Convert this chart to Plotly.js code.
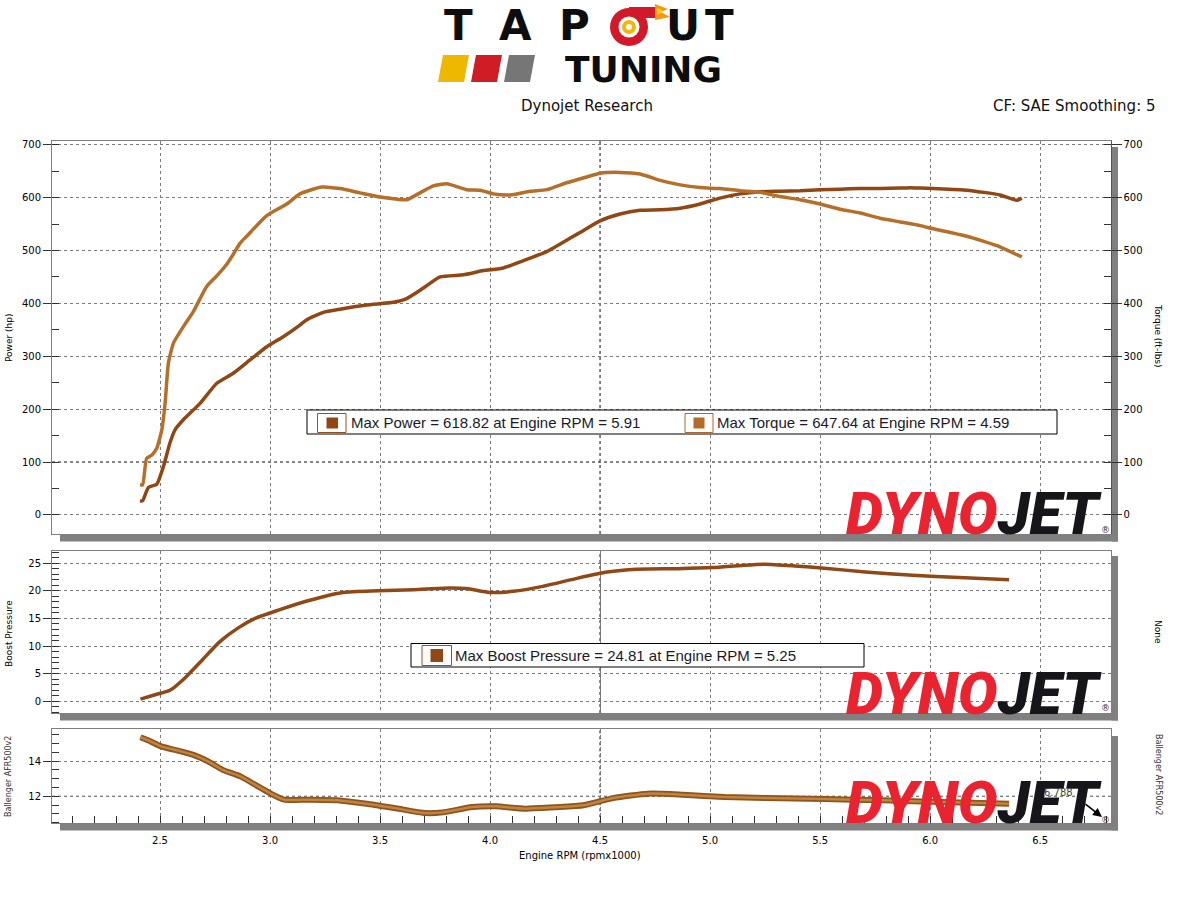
<!DOCTYPE html>
<html><head><meta charset="utf-8">
<script src="https://cdn.plot.ly/plotly-3.0.1.min.js"></script>
<style>html,body{margin:0;padding:0;background:#fff}#chart{width:1178px;height:899px}</style>
</head><body><div id="chart"></div>
<script>
// ---------- data (Engine RPM x1000) ----------
const rpmPower = [2.409,2.421,2.447,2.485,2.515,2.545,2.568,2.606,2.682,2.758,2.833,2.909,2.985,3.060,3.136,3.167,3.242,3.318,3.439,3.561,3.621,3.697,3.773,3.879,3.970,4.061,4.152,4.258,4.379,4.409,4.500,4.591,4.682,4.773,4.864,4.955,5.045,5.136,5.227,5.318,5.409,5.500,5.591,5.682,5.773,5.864,5.910,5.955,6.015,6.167,6.318,6.394,6.417];
const powerHp  = [26,27,52,58,91,136,161,180,211,249,268,293,318,337,359,369,383,389,397,402,409,429,450,454,462,467,481,498,527,534,556,569,576,577,580,588,599,607,611,612,613,615,616,617,617,618,618.82,618,617,614,605,595,599];

const rpmTorque = [2.409,2.421,2.439,2.462,2.485,2.508,2.523,2.538,2.561,2.606,2.652,2.712,2.758,2.803,2.833,2.864,2.894,2.985,3.076,3.136,3.235,3.318,3.409,3.500,3.561,3.621,3.682,3.742,3.803,3.894,3.955,4.015,4.091,4.182,4.258,4.348,4.439,4.500,4.590,4.682,4.773,4.864,4.955,5.045,5.136,5.227,5.318,5.409,5.500,5.591,5.682,5.773,5.864,5.955,6.015,6.167,6.318,6.394,6.417];
const torqueFtLbs = [57,57,107,113,126,161,211,287,325,356,385,432,452,474,493,514,527,566,588,607,620,617,609,601,598,596,609,622,626,615,614,607,605,612,615,628,639,646,647.64,644.5,632.5,624,619,617,613,610,602,596,588,578,571,561,554,547,541,527,507,492,488];

const rpmBoost = [2.411,2.478,2.545,2.612,2.692,2.772,2.852,2.932,3.038,3.172,3.332,3.492,3.652,3.812,3.892,3.999,4.105,4.239,4.399,4.532,4.666,4.852,5.012,5.146,5.250,5.386,5.519,5.706,5.920,6.133,6.359];
const boostPressure = [0.4,1.2,2.0,4.2,7.5,10.8,13.2,15.0,16.5,18.2,19.7,20.0,20.2,20.5,20.4,19.7,19.9,20.8,22.3,23.4,23.9,24.0,24.2,24.6,24.81,24.5,24.1,23.4,22.8,22.4,22.0];

const rpmAfr = [2.411,2.451,2.505,2.585,2.652,2.718,2.785,2.865,2.932,2.998,3.065,3.172,3.305,3.439,3.572,3.705,3.785,3.919,4.025,4.159,4.292,4.425,4.559,4.719,4.879,5.066,5.252,5.519,5.786,6.053,6.359];
const afrBallenger = [15.35,15.15,14.83,14.58,14.35,13.98,13.5,13.13,12.66,12.19,11.81,11.81,11.78,11.58,11.32,11.05,11.09,11.39,11.43,11.3,11.38,11.49,11.9,12.15,12.09,11.96,11.9,11.85,11.77,11.68,11.58];

const legendPower = 'Max Power = 618.82 at Engine RPM = 5.91';
const legendTorque = 'Max Torque = 647.64 at Engine RPM = 4.59';
const legendBoost = 'Max Boost Pressure = 24.81 at Engine RPM = 5.25';

// ---------- helpers ----------
const W = 1178, H = 899;
const px = x => x / W, py = y => 1 - y / H;
const F = 'DejaVu Sans';
const C_POWER = '#904714', C_TORQUE = '#b66f2a', C_BOOST = '#8f4816';

const traces = [
  {x: rpmPower, y: powerHp, xaxis: 'x', yaxis: 'y', mode: 'lines', name: 'Power',
   line: {color: C_POWER, width: 3.5, shape: 'spline', smoothing: 0.5}},
  {x: rpmTorque, y: torqueFtLbs, xaxis: 'x', yaxis: 'y4', mode: 'lines', name: 'Torque',
   line: {color: C_TORQUE, width: 3.5, shape: 'spline', smoothing: 0.5}},
  {x: rpmBoost, y: boostPressure, xaxis: 'x2', yaxis: 'y2', mode: 'lines', name: 'Boost',
   line: {color: C_BOOST, width: 3.5, shape: 'spline', smoothing: 0.6}},
  {x: rpmAfr, y: afrBallenger, xaxis: 'x3', yaxis: 'y3', mode: 'lines', name: 'AFR',
   line: {color: '#8c5420', width: 6, shape: 'spline', smoothing: 0.6}},
  {x: rpmAfr, y: afrBallenger, xaxis: 'x3', yaxis: 'y3', mode: 'lines', name: 'AFR',
   line: {color: '#c2843c', width: 2.5, shape: 'spline', smoothing: 0.6}}
];

const xDom = [px(52), px(1110.5)];
const xRange = [2.009, 6.82];
const tickFont = {family: F, size: 10, color: '#000'};
const gridBase = {showgrid: true, gridcolor: '#7c7c7c', griddash: 'dot', gridwidth: 1,
  zeroline: false, showline: true, linecolor: '#7f7f7f', linewidth: 1, mirror: true};
const xBase = Object.assign({}, gridBase, {domain: xDom, range: xRange, tick0: 2.5, dtick: 0.5,
  showticklabels: false, ticks: ''});
const yLeft = (dom, range, dtick, mdtick) => Object.assign({}, gridBase, {
  domain: dom, range: range, tick0: 0, dtick: dtick, ticks: 'outside', ticklen: 8, tickcolor: '#333',
  tickfont: tickFont, minor: {dtick: mdtick, tick0: 0, ticks: 'inside', ticklen: 7, tickcolor: '#333', showgrid: false}});
const yRight = (ov, anchor, range, dtick, mdtick) => ({
  overlaying: ov, anchor: anchor, side: 'right', range: range, tick0: 0, dtick: dtick,
  showgrid: false, zeroline: false, showline: true, linecolor: '#555', linewidth: 1,
  ticks: 'outside', ticklen: 10, tickcolor: '#333', tickfont: tickFont,
  minor: {dtick: mdtick, tick0: 0, ticks: 'inside', ticklen: 7, tickcolor: '#333', showgrid: false}});

const domTop = [py(534), py(141)], domMid = [py(713), py(551)], domBot = [py(823.3), py(729.3)];

const layout = {
  width: W, height: H, margin: {l: 0, r: 0, t: 0, b: 0},
  paper_bgcolor: '#fff', plot_bgcolor: '#fff', showlegend: false,
  xaxis: Object.assign({}, xBase, {anchor: 'y'}),
  xaxis2: Object.assign({}, xBase, {anchor: 'y2'}),
  xaxis3: Object.assign({}, xBase, {anchor: 'y3', showticklabels: true, tickformat: '.1f',
    tickfont: tickFont, ticks: 'inside', ticklen: 7, tickcolor: '#333', ticklabelstandoff: 8,
    minor: {dtick: 0.1, tick0: 2.5, ticks: 'inside', ticklen: 7, tickcolor: '#333', showgrid: false}}),
  yaxis: Object.assign(yLeft(domTop, [-36, 707], 100, 50), {anchor: 'x'}),
  yaxis2: Object.assign(yLeft(domMid, [-2.1, 27.2], 5, 1), {anchor: 'x2'}),
  yaxis3: Object.assign(yLeft(domBot, [10.47, 15.8], 2, 0.5), {anchor: 'x3'}),
  yaxis4: yRight('y', 'x', [-36, 707], 100, 50),
  yaxis5: yRight('y2', 'x2', [-2.1, 27.2], 5, 1),
  yaxis6: yRight('y3', 'x3', [10.47, 15.8], 2, 0.5),
  shapes: [], annotations: []
};

const S = layout.shapes, A = layout.annotations;
const rectPx = (x0, y0, x1, y1, fill, line, lw, layer) => S.push({type: 'rect', xref: 'paper', yref: 'paper',
  x0: px(x0), x1: px(x1), y0: py(y1), y1: py(y0), fillcolor: fill, line: {color: line || fill, width: lw || 0}, layer: layer || 'above'});
const pathPx = (pts, fill) => S.push({type: 'path', xref: 'paper', yref: 'paper', layer: 'above',
  path: 'M ' + pts.map(p => px(p[0]).toFixed(5) + ' ' + py(p[1]).toFixed(5)).join(' L ') + ' Z',
  fillcolor: fill, line: {width: 0}});
const circlePx = (cx, cy, r, fill) => S.push({type: 'circle', xref: 'paper', yref: 'paper', layer: 'above',
  x0: px(cx - r), x1: px(cx + r), y0: py(cy + r), y1: py(cy - r), fillcolor: fill, line: {width: 0}});
const textPx = (x, y, text, font, opts) => A.push(Object.assign({xref: 'paper', yref: 'paper', x: px(x), y: py(y),
  text: text, showarrow: false, font: font, xanchor: 'center', yanchor: 'middle'}, opts || {}));

// drop shadows of the three panels
[[534.5, 147], [713.5, 556], [823.5, 736]].forEach(([b, t]) => {
  rectPx(60, b, 1118, b + 7, '#808080', null, 0, 'below');
  rectPx(1111.5, t, 1118, b + 7, '#808080', null, 0, 'below');
});

// dark cursor/reference lines
const dl = {color: '#000', width: 1, dash: 'dot'};
[100, 500].forEach(v => S.push({type: 'line', xref: 'x domain', x0: 0, x1: 1, yref: 'y', y0: v, y1: v, line: dl, layer: 'below'}));
S.push({type: 'line', xref: 'x3 domain', x0: 0, x1: 1, yref: 'y3', y0: 12, y1: 12, line: dl, layer: 'below'});
[['x', 'y domain'], ['x2', 'y2 domain'], ['x3', 'y3 domain']].forEach(([xr, yr]) =>
  S.push({type: 'line', xref: xr, x0: 4.5, x1: 4.5, yref: yr, y0: 0, y1: 1, line: dl, layer: 'below'}));

// DYNOJET watermarks
const dj = '<span style="color:#ea2330">DYNO</span><span style="color:#16161a">JET</span>';
[[513, 530], [693, 708], [802, 820]].forEach(([cy, ry]) => {
  textPx(1104, cy, dj, {family: 'Roboto', size: 59, weight: 900, style: 'italic'}, {xanchor: 'right'});
  textPx(1105, ry, '®', {family: F, size: 9, color: '#333'});
});
textPx(1058, 792, '6.788', {family: F, size: 10, color: '#444'});
A.push({xref: 'paper', yref: 'paper', x: px(1102), y: py(817), ax: -18, ay: -14, text: '', showarrow: true,
  arrowhead: 2, arrowsize: 1.2, arrowwidth: 1.5, arrowcolor: '#000'});

// legend boxes
const lf = {family: 'Liberation Sans', size: 15, color: '#1a1a2a'};
rectPx(307, 410, 1057, 434, '#fff', '#000', 1);
rectPx(317.5, 413.5, 346, 432.5, '#fff', '#9a5020', 1);
rectPx(326.5, 417.5, 338, 428.5, C_POWER);
textPx(349, 422.5, legendPower, lf, {xanchor: 'left'});
rectPx(685, 413.5, 713, 432.5, '#fff', '#b0682a', 1);
rectPx(693.5, 417.5, 704.5, 428.5, '#b36b2a');
textPx(715, 422.5, legendTorque, lf, {xanchor: 'left'});
rectPx(411, 643.5, 864, 667, '#fff', '#000', 1);
rectPx(422, 645.5, 451.5, 665.5, '#fff', '#9a5020', 1);
rectPx(430.5, 649, 443, 662, C_BOOST);
textPx(453, 655.5, legendBoost, lf, {xanchor: 'left'});

// axis titles
const tf = {family: F, size: 9, color: '#000'};
textPx(9, 338, 'Power (hp)', tf, {textangle: -90});
textPx(1158, 336, 'Torque (ft-lbs)', tf, {textangle: 90});
textPx(9, 634, 'Boost Pressure', tf, {textangle: -90});
textPx(1158, 632, 'None', tf, {textangle: 90});
textPx(8, 777, 'Ballenger AFR500v2', {family: F, size: 8, color: '#333'}, {textangle: -90});
textPx(1159, 774, 'Ballenger AFR500v2', {family: F, size: 8, color: '#333'}, {textangle: 90});
textPx(580, 855, 'Engine RPM (rpmx1000)', {family: F, size: 10, color: '#000'});

// header
textPx(587, 106, 'Dynojet Research', {family: F, size: 15, color: '#111'});
textPx(1158, 106, 'CF: SAE Smoothing: 5', {family: F, size: 15, color: '#111'}, {xanchor: 'right'});

// TAPOUT TUNING logo
const lg = {family: F, size: 42, color: '#0d0d0d', weight: 'bold'};
[['T', 458], ['A', 515], ['P', 574], ['U', 683], ['T', 719]].forEach(([c, x]) => textPx(x, 25, c, lg));
rectPx(629, 7, 657, 18, '#d2192a');
pathPx([[655, 4], [668, 9], [661, 12], [670, 17], [655, 20]], '#f29a12');
pathPx([[657, 8], [664, 11], [657, 15]], '#f8d21a');
circlePx(629, 27, 19, '#d2192a');
circlePx(629, 27, 10.5, '#fff');
circlePx(629, 27, 7, '#f2b705');
circlePx(629, 27, 3, '#fff');
pathPx([[438, 82], [443, 55], [469, 55], [464, 82]], '#eeb700');
pathPx([[471, 82], [476, 55], [502, 55], [497, 82]], '#cf1c25');
pathPx([[504, 82], [509, 55], [535, 55], [530, 82]], '#767676');
textPx(643, 70, 'TUNING', {family: F, size: 36, color: '#0d0d0d', weight: 'bold'});

Plotly.newPlot('chart', traces, layout, {displayModeBar: false, staticPlot: true});
</script></body></html>
